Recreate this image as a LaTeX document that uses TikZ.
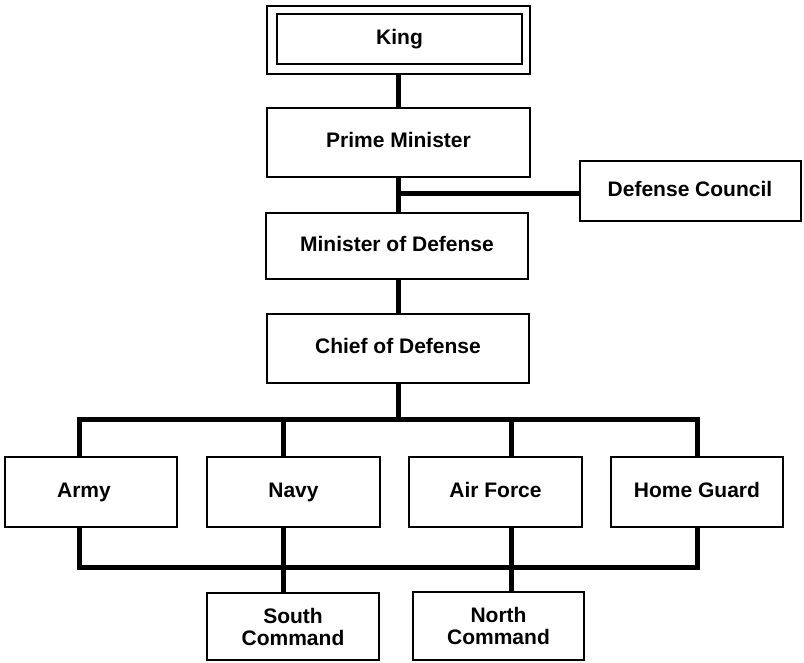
\documentclass[tikz,border=0pt]{standalone}
\usepackage{fontspec}
\setmainfont{Liberation Sans}
\begin{document}
\begin{tikzpicture}[x=1pt,y=-1pt,
  box/.style={draw, line width=2pt, inner sep=0pt, outer sep=0pt, align=center,
    font=\fontsize{21}{22}\selectfont\bfseries},
  oneline/.style={text height=15pt, text depth=4.5pt},
  conn/.style={line width=5pt, line join=miter}]
\useasboundingbox (0,0) rectangle (804,662);
% boxes
\node[box, minimum width=263pt, minimum height=68pt] (kingouter) at (398.5,40) {};
\node[box, oneline, minimum width=245pt, minimum height=50pt] (king) at (399.5,39) {King};
\node[box, oneline, minimum width=263pt, minimum height=69pt] (pm) at (398.5,142.5) {Prime Minister};
\node[box, oneline, minimum width=221pt, minimum height=60pt] (dc) at (690,191) {Defense Council};
\node[box, oneline, minimum width=262pt, minimum height=66pt] (mod) at (397,246) {Minister of Defense};
\node[box, oneline, minimum width=262pt, minimum height=69pt] (chief) at (398,348.5) {Chief of Defense};
\node[box, minimum width=172pt, minimum height=70pt] (army) at (91,492) {};
\node[oneline, inner sep=0pt, font=\fontsize{21}{22}\selectfont\bfseries] (armyt) at (84,492) {Army};
\node[box, oneline, minimum width=173pt, minimum height=70pt] (navy) at (293.5,492) {Navy};
\node[box, oneline, minimum width=173pt, minimum height=70pt] (af) at (495.5,492) {Air Force};
\node[box, oneline, minimum width=172pt, minimum height=70pt] (hg) at (697,492) {Home Guard};
\node[box, minimum width=172pt, minimum height=67pt] (south) at (293,626.5) {South\\Command};
\node[box, minimum width=171pt, minimum height=68pt] (north) at (498.5,626) {North\\Command};
% junction coordinates
\coordinate (j1) at (398,193);
\coordinate (bus) at (398,419);
\coordinate (lbus) at (398,567);
\coordinate (xa) at (79,0);
\coordinate (xn) at (283,0);
\coordinate (xf) at (511,0);
\coordinate (xh) at (697,0);
% connectors
\draw[conn] (kingouter.south -| j1) -- (pm.north -| j1);
\draw[conn] (pm.south -| j1) -- (mod.north -| j1);
\draw[conn] (j1) -- (dc.west |- j1);
\draw[conn] (mod.south -| j1) -- (chief.north -| j1);
\draw[conn] (chief.south -| bus) -- (bus);
\draw[conn] (xa |- army.north) |- (bus) -| (xh |- hg.north);
\draw[conn] (xn |- bus) -- (xn |- navy.north);
\draw[conn] (xf |- bus) -- (xf |- af.north);
\draw[conn] (xa |- army.south) |- (lbus) -| (xh |- hg.south);
\draw[conn] (xn |- navy.south) -- (xn |- south.north);
\draw[conn] (xf |- af.south) -- (xf |- north.north);
\end{tikzpicture}
\end{document}
